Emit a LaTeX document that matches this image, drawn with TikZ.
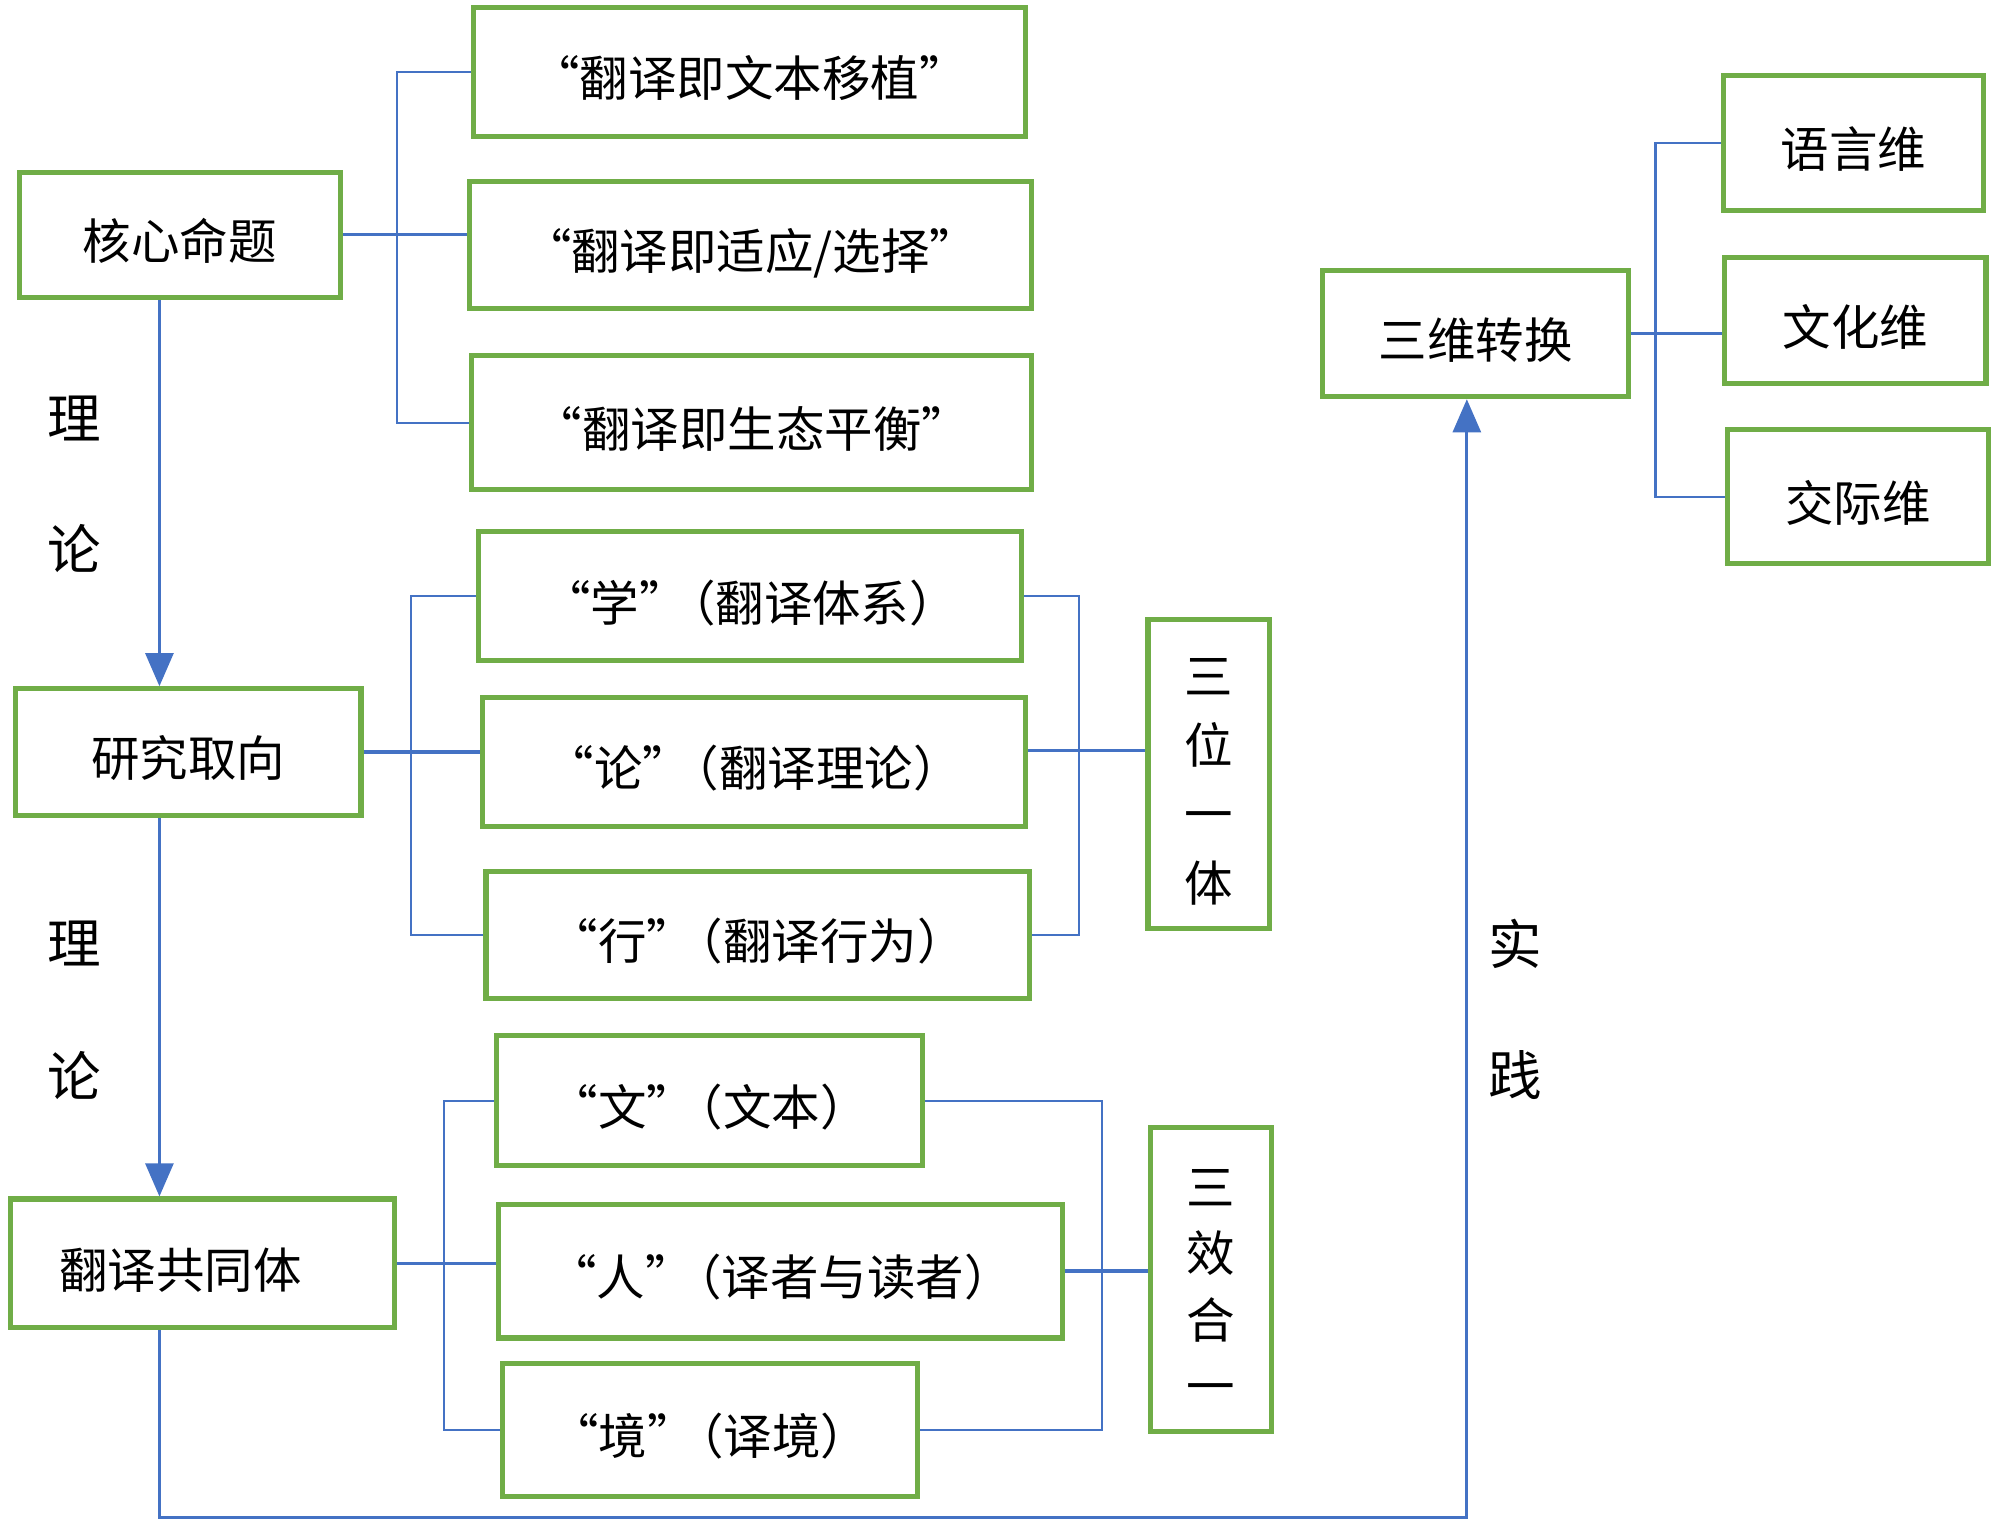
\documentclass[tikz,border=0pt]{standalone}
\usepackage{fontspec}
\newfontfamily\cjk{Noto Sans CJK SC}
\usetikzlibrary{arrows.meta,calc}
\definecolor{boxgreen}{HTML}{70AD47}
\definecolor{lineblue}{HTML}{4472C4}
\newcommand{\qp}{\kern-8pt}
\begin{document}
\begin{tikzpicture}[x=0.5pt,y=-0.5pt,
  box/.style={draw=boxgreen, line width=2pt, inner sep=0pt, font=\cjk\fontsize{19}{24}\selectfont},
  bx/.style 2 args={box, text height=22pt, text depth=2.5pt, minimum width=#1pt, minimum height=#2pt},
  vbx/.style 2 args={box, align=center, minimum width=#1pt, minimum height=#2pt},
  conn/.style={draw=lineblue, line width=1.3pt},
  brk/.style={draw=lineblue, line width=0.9pt},
  arr/.style={draw=lineblue, line width=1.1pt, -{Triangle[width=11pt,length=13pt]}},
  side/.style={font=\cjk\fontsize{21}{21}\selectfont, inner sep=0pt}]
\useasboundingbox (0,0) rectangle (1568,1199);
% nodes
\node[bx={126}{49}] (core) at (141,184) {核心命题};
\node[bx={216.5}{50.5}] (t1) at (587.5,56.5) {“翻译即文本移植”};
\node[bx={220.5}{50}] (t2) at (588.5,192) {“翻译即适应/选择”};
\node[bx={219.5}{52.5}] (t3) at (589.5,331.5) {“翻译即生态平衡”};
\node[bx={135.5}{49.5}] (rq) at (147.5,589.5) {研究取向};
\node[bx={213}{50.5}] (x1) at (588,467.5) {“学”\qp（翻译体系）};
\node[bx={213}{50.5}] (x2) at (591,597.5) {“论”\qp（翻译理论）};
\node[bx={213}{50}] (x3) at (594,733) {“行”\qp（翻译行为）};
\node[vbx={47.5}{121}, font=\cjk\fontsize{19}{27}\selectfont] (sw) at (947.5,607) {\rule{0pt}{20pt}三\\位\\一\\体};
\node[bx={150.5}{50.5}] (gt) at (158.5,990.5) {翻译共同体\kern17pt};
\node[bx={167}{51}] (p1) at (556,863) {“文”\qp（文本）};
\node[bx={221}{52.5}] (p2) at (612,996.5) {“人”\qp（译者与读者）};
\node[bx={162.5}{52}] (p3) at (556.5,1121) {“境”\qp（译境）};
\node[vbx={47.5}{119}, font=\cjk\fontsize{19}{26}\selectfont] (sx) at (949.5,1003) {\rule{0pt}{20pt}三\\效\\合\\一};
\node[bx={120}{49.5}] (trans) at (1157,261.5) {三维转换};
\node[bx={102}{53}] (d1) at (1453,112) {语言维};
\node[bx={102.5}{49.5}] (d2) at (1454.5,251.5) {文化维};
\node[bx={102.5}{52.5}] (d3) at (1456.5,389.5) {交际维};
% side labels
\node[side] (s1) at (58,328) {理};
\node[side] (s2) at (58,430) {论};
\node[side] (s3) at (58,740) {理};
\node[side] (s4) at (58,843) {论};
\node[side] (s5) at (1188,740) {实};
\node[side] (s6) at (1188,843) {践};
% helper coordinates
\coordinate (ax) at (125,0);
\coordinate (b1) at (311,0);
\coordinate (b2) at (322,0);
\coordinate (b3) at (846,0);
\coordinate (b4) at (348,0);
\coordinate (b5) at (864,0);
\coordinate (b6) at (1298,0);
\coordinate (corner) at (1150,1190);
% brackets
\draw[brk] (t1.west) -- (t1.west -| b1) -- (t3.west -| b1) -- (t3.west);
\draw[conn] (core.east) -- (core.east -| t2.west);
\draw[brk] (x1.west) -- (x1.west -| b2) -- (x3.west -| b2) -- (x3.west);
\draw[conn] (rq.east) -- (rq.east -| x2.west);
\draw[brk] (x1.east) -- (x1.east -| b3) -- (x3.east -| b3) -- (x3.east);
\draw[conn] ($(x2.east)+(0,-9)$) -- ($(x2.east -| sw.west)+(0,-9)$);
\draw[brk] (p1.west) -- (p1.west -| b4) -- (p3.west -| b4) -- (p3.west);
\draw[conn] (gt.east) -- (gt.east -| p2.west);
\draw[brk] (p1.east) -- (p1.east -| b5) -- (p3.east -| b5) -- (p3.east);
\draw[conn] (p2.east) -- (p2.east -| sx.west);
\draw[brk] (d1.west) -- (d1.west -| b6) -- (d3.west -| b6) -- (d3.west);
\draw[conn] (trans.east) -- (trans.east -| d2.west);
% arrows
\draw[arr] (core.south -| ax) -- (rq.north -| ax);
\draw[arr] (rq.south -| ax) -- (gt.north -| ax);
\draw[arr] (gt.south -| ax) -- (ax |- corner) -- (corner) -- (corner |- trans.south);
\end{tikzpicture}
\end{document}
